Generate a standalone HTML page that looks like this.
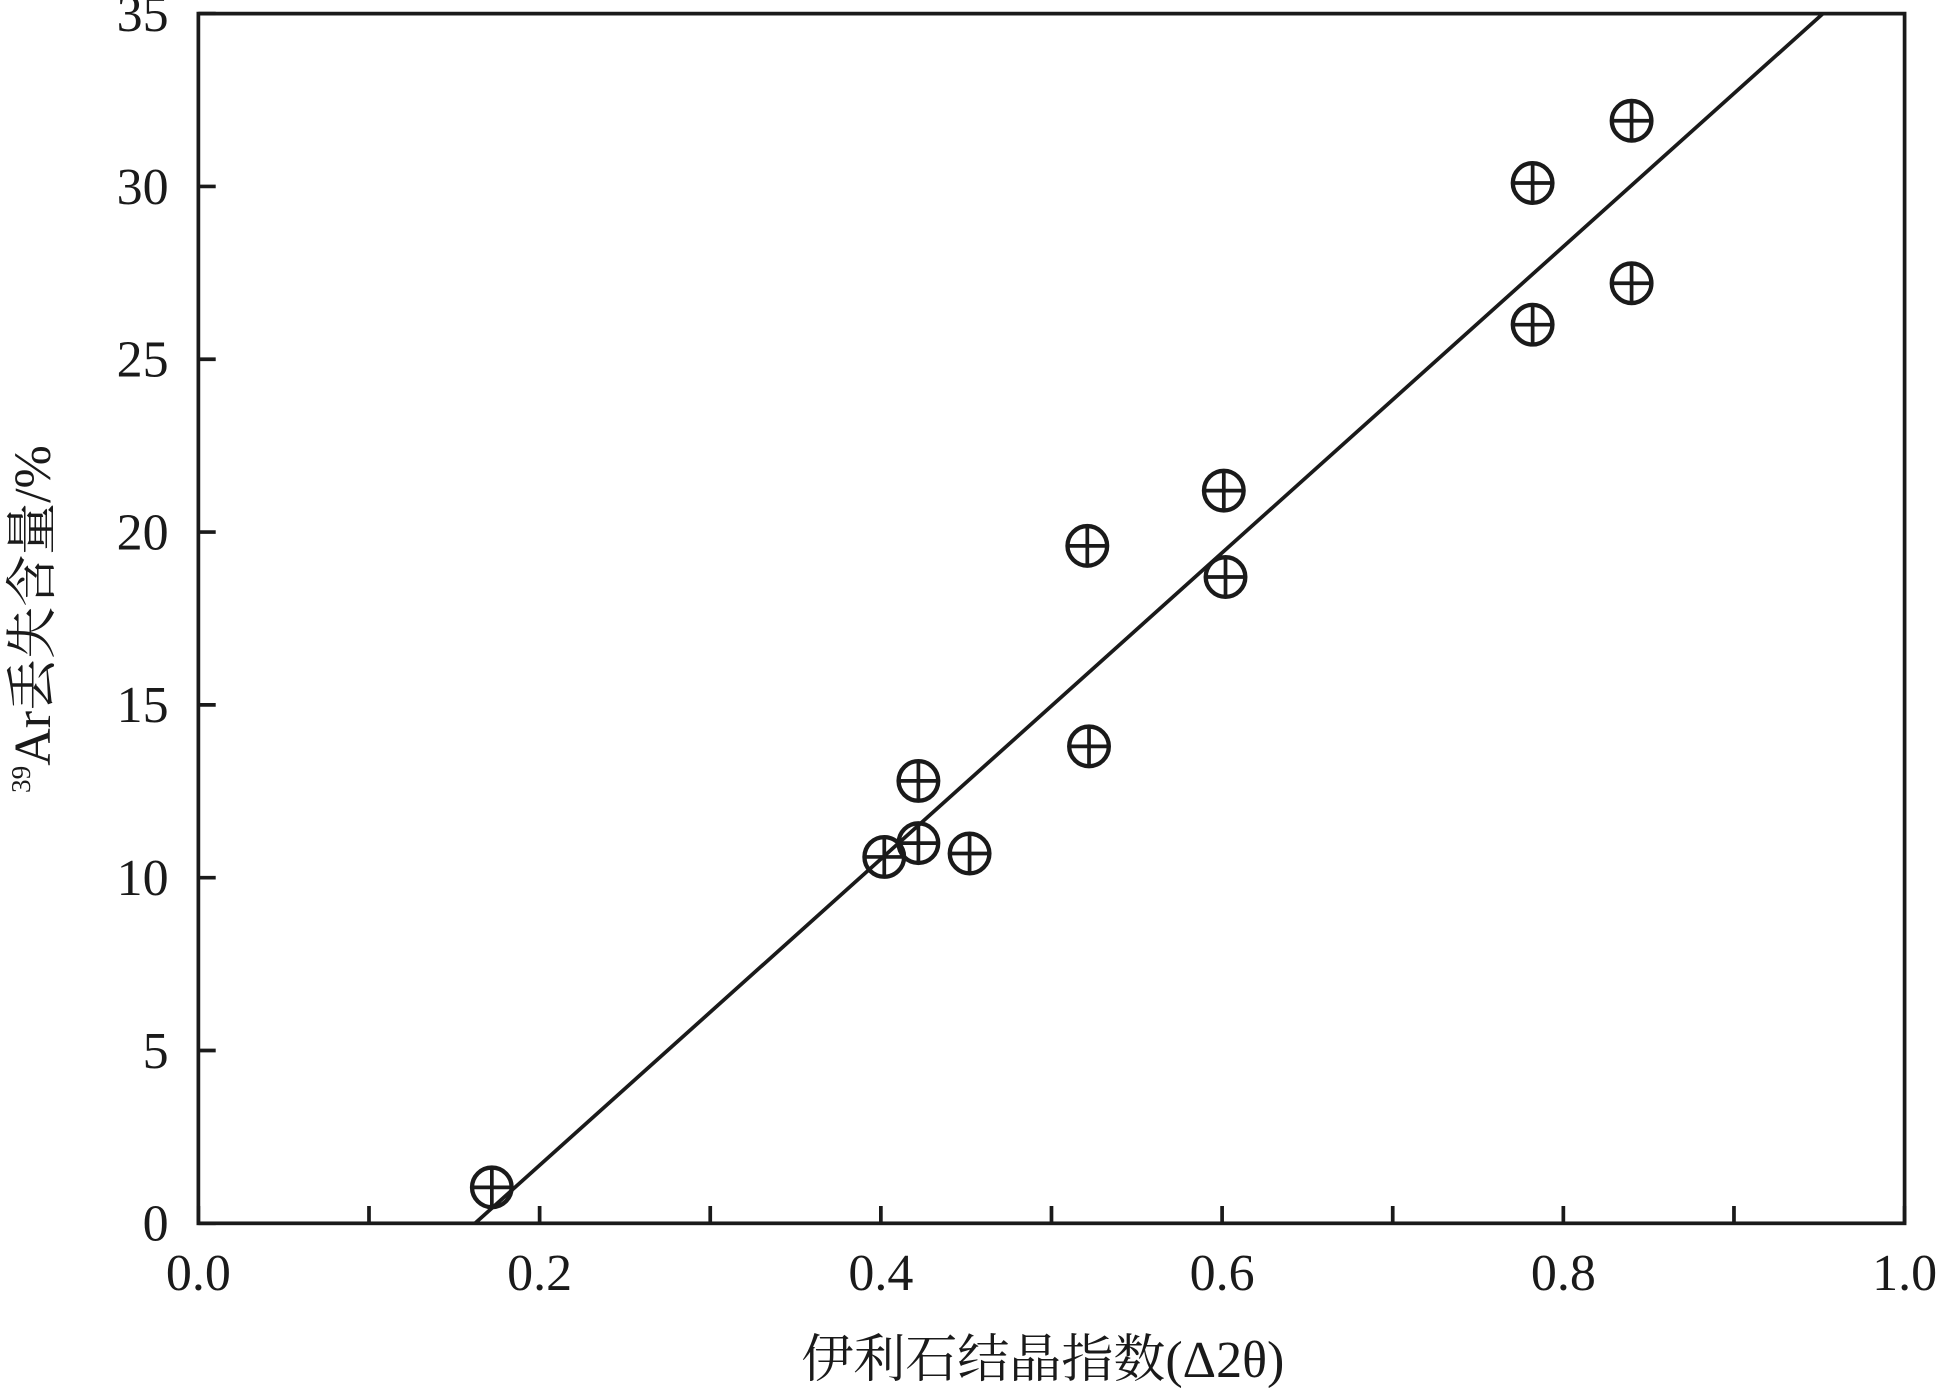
<!DOCTYPE html>
<html><head><meta charset="utf-8"><style>
html,body{margin:0;padding:0;background:#fff;}
svg{display:block;}
text{font-family:"Liberation Serif","Noto Serif CJK SC",serif;fill:#1a1a1a;}
</style></head><body>
<svg id="chart" width="1942" height="1388" viewBox="0 0 1568 1121" xmlns="http://www.w3.org/2000/svg">
<g id="axes"></g>
<g id="marks"></g>
<text x="842" y="1112" text-anchor="middle" font-size="42">伊利石结晶指数(Δ2θ)</text>
<text transform="translate(40,500) rotate(-90)" text-anchor="middle" font-size="42"><tspan font-size="22" dy="-16">39</tspan><tspan dy="16">Ar丢失含量/%</tspan></text>
</svg>
<script>
const xTicks=[0.0,0.2,0.4,0.6,0.8,1.0];
const xTickLabels=["0.0","0.2","0.4","0.6","0.8","1.0"];
const xMinorTicks=[0.1,0.3,0.5,0.7,0.9];
const yTicks=[0,5,10,15,20,25,30,35];
const yTickLabels=["0","5","10","15","20","25","30","35"];
const xValues=[0.172,0.402,0.422,0.422,0.452,0.521,0.522,0.601,0.602,0.782,0.782,0.840,0.840];
const yValues=[1.04,10.6,11.0,12.8,10.7,19.6,13.8,21.2,18.7,30.1,26.0,31.9,27.2];
const fitSlope=[44.3];
const fitIntercept=[-7.18];
const L=160,R=1538,T=11,B=988;
const sx=v=>L+(v-0)/(1-0)*(R-L);
const sy=v=>B-(v-0)/(35-0)*(B-T);
const NS="http://www.w3.org/2000/svg";
const axes=document.getElementById('axes'),marks=document.getElementById('marks');
function mk(tag,attrs,parent){const e=document.createElementNS(NS,tag);for(const k in attrs)e.setAttribute(k,attrs[k]);parent.appendChild(e);return e;}
let r=mk('rect',{x:L,y:T,width:R-L,height:B-T,fill:'none',stroke:'#1a1a1a','stroke-width':3},axes);


xTicks.concat(xMinorTicks).forEach(v=>{
 const t=mk('line',{x1:sx(v),x2:sx(v),y1:B,y2:B-14,stroke:'#1a1a1a','stroke-width':3},axes);
 
 
});
xTicks.forEach((v,i)=>{
 const t=mk('text',{x:sx(v),y:1042,'text-anchor':'middle','font-size':42},axes);t.textContent=xTickLabels[i];
 
 
});
yTicks.forEach((v,i)=>{
 const l=mk('line',{x1:L,x2:L+14,y1:sy(v),y2:sy(v),stroke:'#1a1a1a','stroke-width':3},axes);
 
 
 const t=mk('text',{x:136,y:sy(v)+14,'text-anchor':'end','font-size':42},axes);t.textContent=yTickLabels[i];
 
 
});
const x0=(0-fitIntercept[0])/fitSlope[0], x1=(35-fitIntercept[0])/fitSlope[0];
const fl=mk('line',{x1:sx(x0),y1:sy(0),x2:sx(x1),y2:sy(35),stroke:'#1a1a1a','stroke-width':3},marks);


xValues.forEach((xv,i)=>{
 const cx=sx(xv),cy=sy(yValues[i]);
 const g=mk('g',{},marks);
 
 
 mk('circle',{cx:cx,cy:cy,r:16,fill:'none',stroke:'#1a1a1a','stroke-width':3.5},g);
 mk('line',{x1:cx-16,x2:cx+16,y1:cy,y2:cy,stroke:'#1a1a1a','stroke-width':3},g);
 mk('line',{x1:cx,x2:cx,y1:cy-16,y2:cy+16,stroke:'#1a1a1a','stroke-width':3},g);
});
</script>
</body></html>
